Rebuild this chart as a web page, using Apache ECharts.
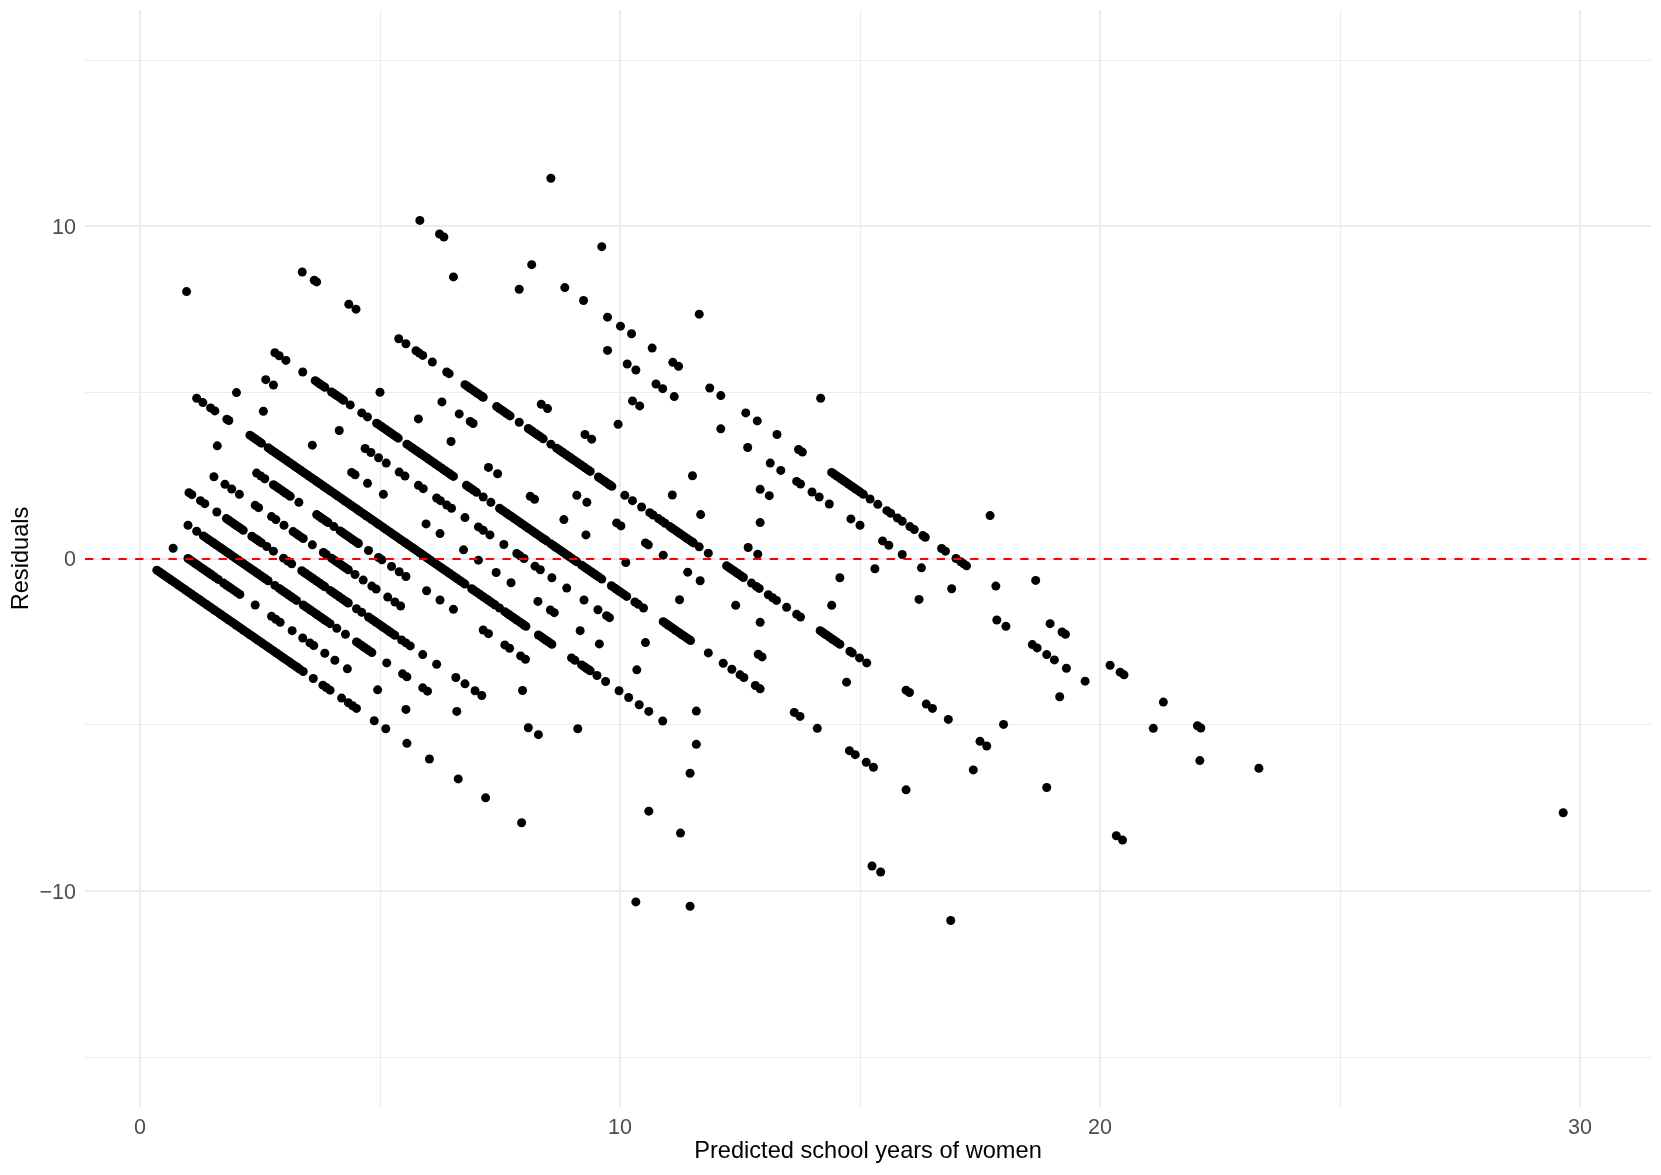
<!DOCTYPE html>
<html>
<head>
<meta charset="utf-8">
<style>html,body{margin:0;padding:0;background:#fff}#c{width:1661px;height:1175px}</style>
<script src="https://cdn.jsdelivr.net/npm/echarts@6/dist/echarts.min.js"></script>
</head>
<body>
<div id="c"></div>
<script>
const xMajor = [0, 10, 20, 30];
const xMinor = [5, 15, 25];
const yMajor = [-10, 0, 10];
const yMinor = [-15, -5, 5, 15];
const xTitle = "Predicted school years of women";
const yTitle = "Residuals";

const band0 = [[0.35,-0.35],[0.45,-0.45],[0.55,-0.55],[0.65,-0.65],[0.75,-0.75],[0.85,-0.85],[0.95,-0.95],[1.05,-1.05],[1.15,-1.15],[1.25,-1.25],[1.35,-1.35],[1.45,-1.45],[1.55,-1.55],[1.65,-1.65],[1.75,-1.75],[1.85,-1.85],[1.95,-1.95],[2.05,-2.05],[2.15,-2.15],[2.25,-2.25],[2.35,-2.35],[2.45,-2.45],[2.55,-2.55],[2.65,-2.65],[2.75,-2.75],[2.85,-2.85],[2.95,-2.95],[3.05,-3.05],[3.15,-3.15],[3.25,-3.25],[3.33,-3.33],[3.40,-3.40],[3.61,-3.61],[3.81,-3.81],[3.88,-3.88],[3.96,-3.96],[4.2,-4.2],[4.34,-4.34],[4.43,-4.43],[4.51,-4.51],[4.88,-4.88],[5.12,-5.12],[5.56,-5.56],[6.03,-6.03],[6.63,-6.63],[7.2,-7.2],[7.95,-7.95],[10.33,-10.33]];
const band0b = [[0.4,-0.4],[0.5,-0.5],[0.6,-0.6],[0.7,-0.7],[0.8,-0.8],[0.9,-0.9],[1.0,-1.0],[1.1,-1.1],[1.2,-1.2],[1.3,-1.3],[1.4,-1.4],[1.5,-1.5],[1.6,-1.6],[1.7,-1.7],[1.8,-1.8],[1.9,-1.9],[2.0,-2.0],[2.1,-2.1],[2.2,-2.2],[2.3,-2.3],[2.4,-2.4],[2.5,-2.5],[2.6,-2.6],[2.7,-2.7],[2.8,-2.8],[2.9,-2.9],[3.0,-3.0],[3.1,-3.1],[3.2,-3.2],[3.29,-3.29]];
const band1 = [[0.69,0.31],[1.0,0],[1.1,-0.1],[1.2,-0.2],[1.3,-0.3],[1.4,-0.4],[1.5,-0.5],[1.63,-0.63],[1.74,-0.74],[1.85,-0.85],[1.96,-0.96],[2.08,-1.08],[2.4,-1.4],[2.74,-1.74],[2.83,-1.83],[2.92,-1.92],[3.17,-2.17],[3.39,-2.39],[3.54,-2.54],[3.62,-2.62],[3.85,-2.85],[4.06,-3.06],[4.32,-3.32],[4.95,-3.95],[5.54,-4.54],[11.46,-10.46]];
const band1b = [[1.05,-0.05],[1.15,-0.15],[1.25,-0.25],[1.35,-0.35],[1.45,-0.45],[1.56,-0.56],[1.8,-0.8],[1.9,-0.9],[2.02,-1.02]];
const band2 = [[1.0,1.0],[1.18,0.82],[1.32,0.68],[1.42,0.58],[1.52,0.48],[1.62,0.38],[1.72,0.28],[1.82,0.18],[1.92,0.08],[2.02,-0.02],[2.12,-0.12],[2.22,-0.22],[2.32,-0.32],[2.42,-0.42],[2.52,-0.52],[2.62,-0.62],[2.67,-0.67],[2.81,-0.81],[2.9,-0.9],[3.0,-1.0],[3.1,-1.1],[3.2,-1.2],[3.26,-1.26],[3.4,-1.4],[3.5,-1.5],[3.6,-1.6],[3.7,-1.7],[3.8,-1.8],[3.9,-1.9],[3.96,-1.96],[4.1,-2.1],[4.28,-2.28],[4.51,-2.51],[4.62,-2.62],[4.72,-2.72],[4.83,-2.83],[5.14,-3.14],[5.47,-3.47],[5.56,-3.56],[5.89,-3.89],[5.99,-3.99],[6.6,-4.6]];
const band2b = [[1.37,0.63],[1.47,0.53],[1.57,0.43],[1.67,0.33],[1.77,0.23],[1.87,0.13],[1.97,0.03],[2.07,-0.07],[2.17,-0.17],[2.27,-0.27],[2.37,-0.37],[2.47,-0.47],[2.57,-0.57],[2.95,-0.95],[3.05,-1.05],[3.15,-1.15],[3.45,-1.45],[3.55,-1.55],[3.65,-1.65],[3.75,-1.75],[3.85,-1.85],[4.56,-2.56],[4.67,-2.67],[4.77,-2.77]];
const band3 = [[1.02,1.98],[1.08,1.92],[1.26,1.74],[1.35,1.65],[1.6,1.4],[1.8,1.2],[1.9,1.1],[2.0,1.0],[2.1,0.9],[2.15,0.85],[2.33,0.67],[2.43,0.57],[2.53,0.47],[2.64,0.36],[2.78,0.22],[2.99,0.01],[3.08,-0.08],[3.16,-0.16],[3.37,-0.37],[3.47,-0.47],[3.57,-0.57],[3.67,-0.67],[3.77,-0.77],[3.85,-0.85],[3.96,-0.96],[4.06,-1.06],[4.16,-1.16],[4.26,-1.26],[4.34,-1.34],[4.51,-1.51],[4.62,-1.62],[4.76,-1.76],[4.86,-1.86],[4.96,-1.96],[5.06,-2.06],[5.16,-2.16],[5.26,-2.26],[5.31,-2.31],[5.45,-2.45],[5.54,-2.54],[5.63,-2.63],[5.89,-2.89],[6.18,-3.18],[6.58,-3.58],[6.77,-3.77],[6.98,-3.98],[7.12,-4.12],[8.09,-5.09],[8.3,-5.3],[10.6,-7.6],[11.26,-8.26]];
const band3b = [[1.85,1.15],[1.95,1.05],[2.05,0.95],[2.38,0.62],[2.48,0.52],[3.42,-0.42],[3.52,-0.52],[3.62,-0.62],[3.72,-0.72],[3.81,-0.81],[4.01,-1.01],[4.11,-1.11],[4.21,-1.21],[4.3,-1.3],[4.81,-1.81],[4.91,-1.91],[5.01,-2.01],[5.11,-2.11],[5.21,-2.21]];
const band4 = [[1.54,2.46],[1.77,2.23],[1.91,2.09],[2.07,1.93],[2.4,1.6],[2.47,1.53],[2.74,1.26],[2.83,1.17],[3.0,1.0],[3.19,0.81],[3.3,0.7],[3.4,0.6],[3.59,0.41],[3.82,0.18],[3.88,0.12],[3.99,0.01],[4.09,-0.09],[4.19,-0.19],[4.29,-0.29],[4.34,-0.34],[4.48,-0.48],[4.65,-0.65],[4.83,-0.83],[4.92,-0.92],[5.16,-1.16],[5.31,-1.31],[5.43,-1.43],[7.97,-3.97],[9.12,-5.12]];
const band4b = [[4.04,-0.04],[4.14,-0.14],[4.24,-0.24],[3.25,0.75],[3.35,0.65]];
const band5 = [[1.61,3.39],[2.43,2.57],[2.52,2.48],[2.6,2.4],[2.78,2.22],[2.88,2.12],[2.98,2.02],[3.08,1.92],[3.13,1.87],[3.31,1.69],[3.68,1.32],[3.78,1.22],[3.88,1.12],[3.92,1.08],[4.04,0.96],[4.17,0.83],[4.27,0.73],[4.37,0.63],[4.47,0.53],[4.55,0.45],[4.76,0.24],[4.97,0.03],[5.04,-0.04],[5.24,-0.24],[5.4,-0.4],[5.54,-0.54],[5.97,-0.97],[6.25,-1.25],[6.53,-1.53],[7.15,-2.15],[7.26,-2.26],[7.6,-2.6],[7.7,-2.7],[7.93,-2.93],[8.03,-3.03],[11.46,-6.46]];
const band5b = [[2.83,2.17],[2.93,2.07],[3.03,1.97],[3.73,1.27],[3.83,1.17],[4.22,0.78],[4.32,0.68],[4.42,0.58],[4.52,0.48]];
const band6 = [[1.18,4.82],[1.31,4.69],[1.47,4.53],[1.56,4.44],[1.81,4.19],[1.85,4.15],[2.29,3.71],[2.39,3.61],[2.49,3.51],[2.53,3.47],[2.67,3.33],[2.77,3.23],[2.87,3.13],[2.97,3.03],[3.07,2.93],[3.17,2.83],[3.27,2.73],[3.37,2.63],[3.47,2.53],[3.57,2.43],[3.67,2.33],[3.77,2.23],[3.87,2.13],[3.97,2.03],[4.07,1.93],[4.17,1.83],[4.27,1.73],[4.37,1.63],[4.47,1.53],[4.57,1.43],[4.67,1.33],[4.77,1.23],[4.87,1.13],[4.97,1.03],[5.07,0.93],[5.17,0.83],[5.27,0.73],[5.37,0.63],[5.47,0.53],[5.57,0.43],[5.67,0.33],[5.77,0.23],[5.87,0.13],[5.97,0.03],[6.07,-0.07],[6.17,-0.17],[6.27,-0.27],[6.37,-0.37],[6.47,-0.47],[6.57,-0.57],[6.67,-0.67],[6.77,-0.77],[6.91,-0.91],[7.0,-1.0],[7.1,-1.1],[7.2,-1.2],[7.3,-1.3],[7.4,-1.4],[7.49,-1.49],[7.6,-1.6],[7.7,-1.7],[7.8,-1.8],[7.9,-1.9],[8.0,-2.0],[8.04,-2.04],[8.3,-2.3],[8.4,-2.4],[8.5,-2.5],[8.58,-2.58],[8.99,-2.99],[9.06,-3.06],[9.2,-3.2],[9.3,-3.3],[9.38,-3.38],[9.52,-3.52],[9.7,-3.7],[9.98,-3.98],[10.18,-4.18],[10.4,-4.4],[10.6,-4.6],[10.89,-4.89],[11.59,-5.59],[15.25,-9.25],[15.43,-9.43],[16.89,-10.89]];
const band6b = [[2.34,3.66],[2.44,3.56],[2.72,3.28],[2.82,3.18],[2.92,3.08],[3.02,2.98],[3.12,2.88],[3.22,2.78],[3.32,2.68],[3.42,2.58],[3.52,2.48],[3.62,2.38],[3.72,2.28],[3.82,2.18],[3.92,2.08],[4.02,1.98],[4.12,1.88],[4.22,1.78],[4.32,1.68],[4.42,1.58],[4.52,1.48],[4.62,1.38],[4.72,1.28],[4.82,1.18],[4.92,1.08],[5.02,0.98],[5.12,0.88],[5.22,0.78],[5.32,0.68],[5.42,0.58],[5.52,0.48],[5.62,0.38],[5.72,0.28],[5.82,0.18],[5.92,0.08],[6.02,-0.02],[6.12,-0.12],[6.22,-0.22],[6.32,-0.32],[6.42,-0.42],[6.52,-0.52],[6.62,-0.62],[6.72,-0.72],[6.95,-0.95],[7.05,-1.05],[7.15,-1.15],[7.25,-1.25],[7.35,-1.35],[7.65,-1.65],[7.75,-1.75],[7.85,-1.85],[7.95,-1.95],[8.35,-2.35],[8.45,-2.45],[8.54,-2.54],[9.25,-3.25],[9.34,-3.34]];
const band7 = [[2.01,4.99],[2.57,4.43],[3.59,3.41],[4.41,2.59],[4.48,2.52],[4.74,2.26],[5.07,1.93],[5.96,1.04],[6.25,0.75],[6.74,0.26],[7.05,-0.05],[7.42,-0.42],[7.73,-0.73],[8.29,-1.29],[8.55,-1.55],[8.63,-1.63],[9.17,-2.17],[9.57,-2.57],[10.35,-3.35],[11.59,-4.59]];
const band8 = [[2.62,5.38],[2.78,5.22],[4.15,3.85],[4.69,3.31],[4.81,3.19],[4.97,3.03],[5.13,2.87],[5.4,2.6],[5.52,2.48],[5.8,2.2],[5.9,2.1],[6.18,1.82],[6.26,1.74],[6.39,1.61],[6.49,1.51],[6.77,1.23],[7.05,0.95],[7.15,0.85],[7.29,0.71],[7.58,0.42],[7.85,0.15],[7.92,0.08],[8.0,0],[8.23,-0.23],[8.34,-0.34],[8.58,-0.58],[8.89,-0.89],[9.25,-1.25],[9.54,-1.54],[9.72,-1.72],[9.78,-1.78],[10.53,-2.53]];
const band9 = [[0.97,8.03],[2.81,6.19],[2.9,6.1],[3.04,5.96],[3.39,5.61],[3.65,5.35],[3.75,5.25],[3.85,5.15],[3.99,5.01],[4.09,4.91],[4.19,4.81],[4.24,4.76],[4.38,4.62],[4.62,4.38],[4.74,4.26],[4.93,4.07],[5.03,3.97],[5.13,3.87],[5.23,3.77],[5.33,3.67],[5.38,3.62],[5.56,3.44],[5.66,3.34],[5.76,3.24],[5.86,3.14],[5.96,3.04],[6.06,2.94],[6.16,2.84],[6.26,2.74],[6.36,2.64],[6.46,2.54],[6.53,2.47],[6.8,2.2],[6.9,2.1],[7.01,1.99],[7.15,1.85],[7.31,1.69],[7.49,1.51],[7.59,1.41],[7.69,1.31],[7.79,1.21],[7.89,1.11],[7.99,1.01],[8.09,0.91],[8.19,0.81],[8.29,0.71],[8.39,0.61],[8.47,0.53],[8.56,0.44],[8.66,0.34],[8.76,0.24],[8.86,0.14],[8.96,0.04],[9.06,-0.06],[9.1,-0.1],[9.2,-0.2],[9.3,-0.3],[9.4,-0.4],[9.5,-0.5],[9.62,-0.62],[9.82,-0.82],[9.92,-0.92],[10.02,-1.02],[10.14,-1.14],[10.31,-1.31],[10.38,-1.38],[10.49,-1.49],[10.9,-1.9],[11.0,-2.0],[11.1,-2.1],[11.2,-2.2],[11.3,-2.3],[11.4,-2.4],[11.47,-2.47],[11.84,-2.84],[12.15,-3.15],[12.33,-3.33],[12.5,-3.5],[12.58,-3.58],[12.82,-3.82],[12.92,-3.92],[13.63,-4.63],[13.75,-4.75],[14.11,-5.11],[14.78,-5.78],[14.9,-5.9],[15.13,-6.13],[15.28,-6.28],[15.96,-6.96]];
const band9b = [[3.7,5.3],[3.8,5.2],[4.04,4.96],[4.14,4.86],[4.98,4.02],[5.08,3.92],[5.18,3.82],[5.28,3.72],[5.61,3.39],[5.71,3.29],[5.81,3.19],[5.91,3.09],[6.01,2.99],[6.11,2.89],[6.21,2.79],[6.31,2.69],[6.41,2.59],[6.49,2.51],[6.85,2.15],[6.95,2.05],[7.54,1.46],[7.64,1.36],[7.74,1.26],[7.84,1.16],[7.94,1.06],[8.04,0.96],[8.14,0.86],[8.24,0.76],[8.34,0.66],[8.43,0.57],[8.61,0.39],[8.71,0.29],[8.81,0.19],[8.91,0.09],[9.01,-0.01],[9.25,-0.25],[9.35,-0.35],[9.45,-0.45],[9.55,-0.55],[9.87,-0.87],[9.97,-0.97],[10.08,-1.08],[10.95,-1.95],[11.05,-2.05],[11.15,-2.15],[11.25,-2.25],[11.35,-2.35],[11.44,-2.44]];
const band10 = [[5.0,5.0],[5.8,4.2],[6.48,3.52],[7.26,2.74],[7.45,2.55],[8.13,1.87],[8.22,1.78],[8.83,1.17],[9.29,0.71],[10.12,-0.12],[11.24,-1.24],[12.88,-2.88],[12.96,-2.96]];
const band11 = [[6.29,4.71],[6.65,4.35],[6.88,4.12],[6.94,4.06],[9.1,1.9],[9.31,1.69],[9.93,1.07],[10.02,0.98],[10.53,0.47],[10.59,0.41],[10.9,0.1],[11.41,-0.41],[11.67,-0.67],[12.41,-1.41],[12.92,-1.92],[14.72,-3.72],[17.36,-6.36]];
const band12 = [[3.38,8.62],[3.63,8.37],[3.68,8.32],[4.35,7.65],[4.5,7.5],[5.39,6.61],[5.54,6.46],[5.75,6.25],[5.82,6.18],[5.89,6.11],[6.09,5.91],[6.39,5.61],[6.44,5.56],[6.77,5.23],[6.87,5.13],[6.97,5.03],[7.07,4.93],[7.15,4.85],[7.43,4.57],[7.53,4.47],[7.63,4.37],[7.71,4.29],[7.9,4.1],[8.09,3.91],[8.19,3.81],[8.29,3.71],[8.4,3.6],[8.56,3.44],[8.68,3.32],[8.78,3.22],[8.88,3.12],[8.98,3.02],[9.08,2.92],[9.18,2.82],[9.28,2.72],[9.38,2.62],[9.55,2.45],[9.65,2.35],[9.75,2.25],[9.83,2.17],[10.1,1.9],[10.26,1.74],[10.45,1.55],[10.62,1.38],[10.69,1.31],[10.8,1.2],[10.87,1.13],[10.94,1.06],[11.04,0.96],[11.14,0.86],[11.24,0.76],[11.34,0.66],[11.44,0.56],[11.53,0.47],[11.65,0.35],[11.84,0.16],[12.22,-0.22],[12.32,-0.32],[12.42,-0.42],[12.52,-0.52],[12.57,-0.57],[12.74,-0.74],[12.84,-0.84],[12.9,-0.9],[13.09,-1.09],[13.18,-1.18],[13.26,-1.26],[13.47,-1.47],[13.68,-1.68],[13.76,-1.76],[14.17,-2.17],[14.27,-2.27],[14.37,-2.37],[14.47,-2.47],[14.58,-2.58],[14.79,-2.79],[14.84,-2.84],[14.99,-2.99],[15.14,-3.14],[15.96,-3.96],[16.03,-4.03],[16.38,-4.38],[16.51,-4.51],[16.84,-4.84],[17.5,-5.5],[17.64,-5.64],[18.89,-6.89],[20.34,-8.34],[20.47,-8.47]];
const band12b = [[6.82,5.18],[6.92,5.08],[7.02,4.98],[7.12,4.88],[7.48,4.52],[7.58,4.42],[7.67,4.33],[8.14,3.86],[8.24,3.76],[8.34,3.66],[8.73,3.27],[8.83,3.17],[8.93,3.07],[9.03,2.97],[9.13,2.87],[9.23,2.77],[9.33,2.67],[9.6,2.4],[9.7,2.3],[9.79,2.21],[11.09,0.91],[11.19,0.81],[11.29,0.71],[11.39,0.61],[11.49,0.51],[12.27,-0.27],[12.37,-0.37],[12.47,-0.47],[14.22,-2.22],[14.32,-2.32],[14.42,-2.42],[14.52,-2.52]];
const band13 = [[8.36,4.64],[8.49,4.51],[9.27,3.73],[9.41,3.59],[11.09,1.91],[11.68,1.32],[12.67,0.33],[12.87,0.13],[14.41,-1.41],[17.99,-4.99]];
const band14 = [[9.96,4.04],[11.51,2.49],[12.92,1.08],[14.58,-0.58]];
const band15 = [[6.53,8.47],[10.26,4.74],[10.41,4.59],[12.92,2.08],[13.11,1.89],[15.31,-0.31],[16.23,-1.23],[19.16,-4.16]];
const band16 = [[5.83,10.17],[6.24,9.76],[6.33,9.67],[7.9,8.1],[9.74,6.26],[10.15,5.85],[10.33,5.67],[10.75,5.25],[10.89,5.11],[11.13,4.87],[12.1,3.9],[12.66,3.34],[13.13,2.87],[13.35,2.65],[13.68,2.32],[13.76,2.24],[14.0,2.0],[14.15,1.85],[14.36,1.64],[14.81,1.19],[15.0,1.0],[15.47,0.53],[15.6,0.4],[15.88,0.12],[16.28,-0.28],[16.91,-0.91],[17.85,-1.85],[18.04,-2.04],[18.59,-2.59],[18.69,-2.69],[18.89,-2.89],[19.05,-3.05],[19.3,-3.3],[19.69,-3.69],[21.11,-5.11],[22.08,-6.08]];
const band17 = [[8.16,8.84],[8.85,8.15],[9.24,7.76],[9.74,7.26],[10.01,6.99],[10.24,6.76],[10.67,6.33],[11.1,5.9],[11.22,5.78],[11.87,5.13],[12.1,4.9],[12.62,4.38],[12.86,4.14],[13.27,3.73],[13.72,3.28],[13.8,3.2],[14.41,2.59],[14.46,2.54],[14.51,2.49],[14.56,2.44],[14.61,2.39],[14.66,2.34],[14.71,2.29],[14.76,2.24],[14.81,2.19],[14.86,2.14],[14.91,2.09],[14.96,2.04],[15.01,1.99],[15.07,1.93],[15.21,1.79],[15.37,1.63],[15.56,1.44],[15.64,1.36],[15.78,1.22],[15.88,1.12],[16.04,0.96],[16.13,0.87],[16.31,0.69],[16.36,0.64],[16.7,0.3],[16.78,0.22],[17.0,0],[17.1,-0.1],[17.16,-0.16],[17.22,-0.22],[17.83,-0.83],[18.96,-1.96],[19.21,-2.21],[19.28,-2.28],[20.21,-3.21],[20.42,-3.42],[20.5,-3.5],[21.32,-4.32],[22.03,-5.03],[22.1,-5.1],[23.31,-6.31]];
const band18 = [[18.66,-0.66]];
const band19 = [[9.62,9.38],[11.65,7.35],[14.18,4.82],[17.71,1.29]];
const band20 = [[8.56,11.44]];
const band22 = [[29.65,-7.65]];

const points = [].concat(band0,band0b,band1,band1b,band2,band2b,band3,band3b,band4,band4b,band5,band5b,band6,band6b,band7,band8,band9,band9b,band10,band11,band12,band12b,band13,band14,band15,band16,band17,band18,band19,band20,band22);

const XMIN = -1.146, XMAX = 31.479, YMIN = -16.5, YMAX = 16.5;
const FONT = '"Liberation Sans", Arial, sans-serif';
const gridColor = '#ececec';
const fmt = v => String(v).replace('-', '\u2212');

const chart = echarts.init(document.getElementById('c'), null, {renderer: 'canvas'});
chart.setOption({
  animation: false,
  backgroundColor: '#fff',
  grid: {left: 85, right: 10, top: 10, bottom: 68, containLabel: false, outerBoundsMode: 'none'},
  xAxis: [
    {type: 'value', min: XMIN, max: XMAX, position: 'bottom',
     name: xTitle, nameLocation: 'middle', nameGap: 32, nameMoveOverlap: false,
     nameTextStyle: {fontFamily: FONT, fontSize: 23.6, color: '#000'},
     axisLine: {show: false}, axisTick: {show: false, customValues: xMajor},
     axisLabel: {customValues: xMajor, formatter: fmt, margin: 10, hideOverlap: false, showMinLabel: true, showMaxLabel: true, fontFamily: FONT, fontSize: 21.5, color: '#4d4d4d'},
     splitLine: {show: true, lineStyle: {color: gridColor, width: 2}}},
    {type: 'value', min: XMIN, max: XMAX, position: 'top',
     axisLine: {show: false}, axisTick: {show: false, customValues: xMinor},
     axisLabel: {show: false, customValues: xMinor},
     splitLine: {show: true, lineStyle: {color: gridColor, width: 1.2}}}
  ],
  yAxis: [
    {type: 'value', min: YMIN, max: YMAX, position: 'left',
     name: yTitle, nameLocation: 'middle', nameGap: 52, nameRotate: 90, nameMoveOverlap: false,
     nameTextStyle: {fontFamily: FONT, fontSize: 23.6, color: '#000'},
     axisLine: {show: false}, axisTick: {show: false, customValues: yMajor},
     axisLabel: {customValues: yMajor, formatter: fmt, margin: 9, verticalAlign: 'top', lineHeight: 4, fontFamily: FONT, fontSize: 21.5, color: '#4d4d4d'},
     splitLine: {show: true, lineStyle: {color: gridColor, width: 2}}},
    {type: 'value', min: YMIN, max: YMAX, position: 'right',
     axisLine: {show: false}, axisTick: {show: false, customValues: yMinor},
     axisLabel: {show: false, customValues: yMinor},
     splitLine: {show: true, lineStyle: {color: gridColor, width: 1.2}}}
  ],
  series: [{
    type: 'scatter', xAxisIndex: 0, yAxisIndex: 0, data: points,
    symbol: 'circle', symbolSize: 9, silent: true, large: false,
    itemStyle: {color: '#000', opacity: 1},
    markLine: {silent: true, symbol: 'none', animation: false, label: {show: false},
      lineStyle: {color: '#ff0000', type: [8.3, 8.4], width: 2},
      data: [{yAxis: 0}]}
  }]
});
</script>
</body>
</html>
